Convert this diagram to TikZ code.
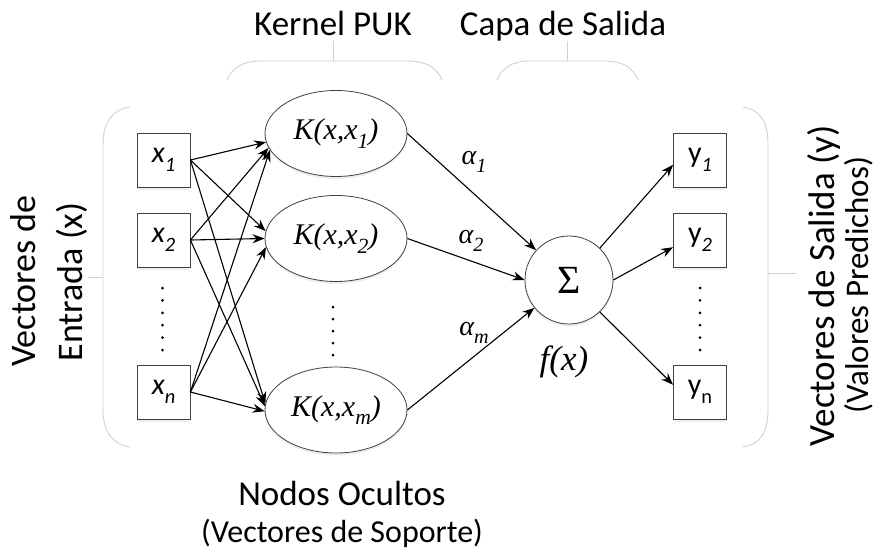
\documentclass[tikz,border=0pt]{standalone}
\usepackage{fontspec}
\setmainfont{Carlito}
\newfontfamily\tms{Liberation Serif}
\usetikzlibrary{arrows.meta,shapes.geometric,shadows}
% lowered, reduced subscript that follows the current font
\newcommand\lowsub[1]{\raisebox{-0.28em}{\scalebox{0.72}{#1}}}
\newcommand\boxsub[1]{\raisebox{-0.3em}{\scalebox{0.68}{#1}}}
\begin{document}
\begin{tikzpicture}[x=1pt,y=-1pt,
  glow/.style={drop shadow={shadow xshift=0pt,shadow yshift=-2.5pt,fill=cyan!40!blue!14,opacity=0.55}},
  box/.style={draw=black!75,line width=0.8pt,fill=white,minimum width=53pt,minimum height=54pt,
    inner sep=0pt,font=\fontsize{30}{34}\selectfont,glow},
  kern/.style={ellipse,draw=black!75,line width=0.8pt,fill=white,minimum width=142pt,minimum height=86pt,
    inner sep=0pt,font=\tms\itshape\fontsize{30}{34}\selectfont,glow},
  sumnode/.style={circle,draw=black!75,line width=0.8pt,fill=white,minimum size=88pt,inner sep=0pt,
    font=\tms\fontsize{40}{44}\selectfont,glow},
  conn/.style={line width=1.1pt,-{Stealth[length=12pt,width=9pt]}},
  brk/.style={draw=black!18,line width=0.9pt},
  title/.style={font=\fontsize{35}{40}\selectfont,anchor=base,inner sep=0pt},
  side/.style={font=\fontsize{36}{40}\selectfont,anchor=base,inner sep=0pt,rotate=90},
  greek/.style={font=\tms\itshape\fontsize{28}{32}\selectfont,inner sep=0pt},
  dot/.style={fill=black}]
\path[use as bounding box] (0,0) rectangle (881,552);

% group brackets
\draw[brk] (130,107) .. controls (112,110) and (103,122) .. (103,145) -- (103,409)
  .. controls (103,432) and (112,444) .. (130,447);
\draw[brk] (103,277) -- (88,277);
\draw[brk] (743,107) .. controls (761,110) and (768,122) .. (768,145) -- (768,409)
  .. controls (768,432) and (761,444) .. (743,447);
\draw[brk] (768,273) -- (796,273);
\draw[brk] (227,80) .. controls (232,68) and (242,61) .. (262,61) -- (407,61)
  .. controls (427,61) and (437,68) .. (442,80);
\draw[brk] (333,61) -- (333,41);
\draw[brk] (497,80) .. controls (502,68) and (512,61) .. (530,61) -- (605,61)
  .. controls (623,61) and (633,68) .. (638,80);
\draw[brk] (567,61) -- (567,41);

% titles
\node[title] (tk) at (333,35) {Kernel PUK};
\node[title] (tc) at (563,35) {Capa de Salida};
\node[title] (th) at (342,505) {Nodos Ocultos};
\node[title,font=\fontsize{32}{36}\selectfont] (ts) at (342,542) {(Vectores de Soporte)};
\node[side] (le1) at (35,281) {Vectores de};
\node[side] (le2) at (82,282) {Entrada (x)};
\node[side,font=\fontsize{37}{40}\selectfont] (ri1) at (834,286) {Vectores de Salida (y)};
\node[side,font=\fontsize{33}{36}\selectfont] (ri2) at (868,285) {(Valores Predichos)};

% input vectors
\node[box] (x1) at (163.5,160) {\itshape x\boxsub{1}};
\node[box] (x2) at (163.5,240) {\itshape x\boxsub{2}};
\node[box] (xn) at (163.5,392) {\itshape x\boxsub{n}};

% kernel nodes
\node[kern] (k1) at (336,133.5) {K(x,x\lowsub{1})};
\node[kern] (k2) at (336,238.5) {K(x,x\lowsub{2})};
\node[kern] (km) at (336,410) {K(x,x\lowsub{m})};

% summation
\node[sumnode] (sig) at (569,280) {Σ};
\node[font=\tms\itshape\fontsize{35}{38}\selectfont,inner sep=0pt] (fx) at (564,362) {f(x)};

% outputs
\node[box] (y1) at (700,160) {y\boxsub{\itshape 1}};
\node[box] (y2) at (700,240) {y\boxsub{\itshape 2}};
\node[box] (yn) at (700,392) {y\boxsub{n}};

% vertical ellipses
\foreach \yy in {288,300.4,312.8,325.2,337.6,350} {
  \fill[dot] (162.5,\yy) circle (1.5pt);
  \fill[dot] (700,\yy) circle (1.5pt);
}
\foreach \yy in {307,319,331,343,355}
  \fill[dot] (333,\yy) circle (1.5pt);

% input to kernel connections
\draw[conn] (x1.east) -- (k1.187);
\draw[conn] (x2.east) -- (k1.192);
\draw[conn] (xn.east) -- (k1.194);
\draw[conn] (x1.east) -- (k2.174);
\draw[conn] (x2.east) -- (k2.west);
\draw[conn] (xn.east) -- (k2.187);
\draw[conn] (x1.east) -- (km.175);
\draw[conn] (x2.east) -- (km.177);
\draw[conn] (xn.east) -- (km.181);

% kernel to summation
\draw[conn] (k1.east) -- (sig);
\draw[conn] (k2.east) -- (sig.west);
\draw[conn] (km.east) -- (sig);
\node[greek] (a1) at (474,162) {α\lowsub{1}};
\node[greek] (a2) at (471,241) {α\lowsub{2}};
\node[greek] (am) at (474,333) {α\lowsub{m}};

% summation to outputs
\draw[conn] (sig.46) -- (y1.190);
\draw[conn] (sig.east) -- (y2.195);
\draw[conn] (sig.314) -- (yn.165);
\end{tikzpicture}
\end{document}
